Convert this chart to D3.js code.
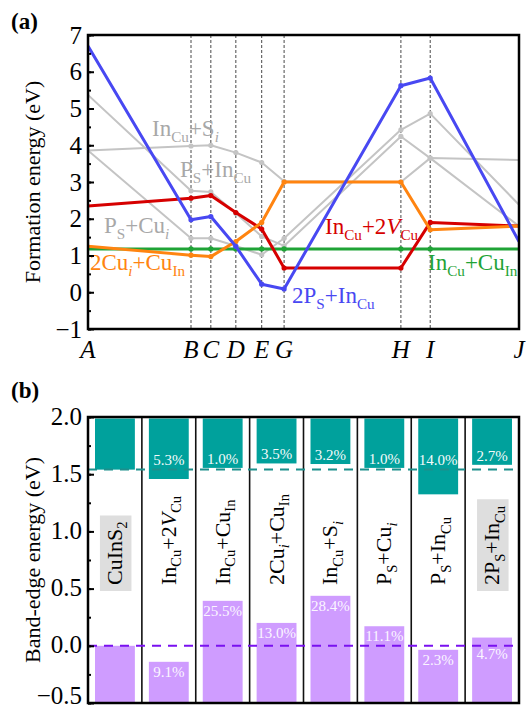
<html>
<head>
<meta charset="utf-8">
<script src="https://d3js.org/d3.v7.min.js"></script>
<style>
body { margin: 0; background: #fff; }
text { font-family: "Liberation Serif", "DejaVu Serif", serif; }
</style>
</head>
<body>
<script>
// ---- panel (a) data ----
const points = ["A", "B", "C", "D", "E", "G", "H", "I", "J"];
const pointPos = [0, 23.9, 28.5, 34.3, 40.3, 45.5, 72.6, 79.4, 100];

const grayInSi = [3.86, 3.98, 4.0, 3.8, 3.53, 3.02, 3.0, 3.65, 3.6];
const grayPsIn = [5.37, 2.76, 2.73, 2.15, 1.52, 1.26, 4.24, 3.65, 1.8];
const grayPsCu = [3.86, 1.47, 1.47, 1.26, 1.02, 1.47, 4.42, 4.86, 2.38];
const greenInCu = [1.18, 1.18, 1.18, 1.18, 1.18, 1.18, 1.18, 1.18, 1.18];
const redIn2V = [2.35, 2.56, 2.63, 2.17, 1.72, 0.66, 0.66, 1.9, 1.8];
const orange2Cu = [1.25, 1.01, 0.97, 1.38, 1.9, 3.0, 3.0, 1.7, 1.8];
const blue2Ps = [6.7, 1.97, 2.06, 1.25, 0.22, 0.09, 5.62, 5.83, 1.38];

// ---- panel (b) data ----
const complexes = [
    [["CuInS"], ["2", "s"]],
    [["In"], ["Cu", "s"], ["+2"], ["V", "i"], ["Cu", "s"]],
    [["In"], ["Cu", "s"], ["+Cu"], ["In", "s"]],
    [["2Cu"], ["i", "is"], ["+Cu"], ["In", "s"]],
    [["In"], ["Cu", "s"], ["+S"], ["i", "is"]],
    [["P"], ["S", "s"], ["+Cu"], ["i", "is"]],
    [["P"], ["S", "s"], ["+In"], ["Cu", "s"]],
    [["2P"], ["S", "s"], ["+In"], ["Cu", "s"]]
];
const boxed = [true, false, false, false, false, false, false, true];
const cbm = [1.54, 1.458, 1.555, 1.594, 1.589, 1.555, 1.324, 1.582];
const vbm = [0.0, -0.14, 0.393, 0.20, 0.437, 0.171, -0.035, 0.072];
const cbmPct = ["", "5.3%", "1.0%", "3.5%", "3.2%", "1.0%", "14.0%", "2.7%"];
const vbmPct = ["", "9.1%", "25.5%", "13.0%", "28.4%", "11.1%", "2.3%", "4.7%"];

const W = 531, H = 713;
const svg = d3.select("body").append("svg").attr("width", W).attr("height", H);

// rich text: parts [text, kind], kind: n, s (sub), i (italic), is (italic sub)
function rich(t, parts, size) {
    let shift = 0;
    parts.forEach(p => {
        let kind = p[1] || "n";
        let sub = kind == "s" || kind == "is";
        let target = sub ? size * 0.25 : 0;
        let ts = t.append("tspan").text(p[0])
            .attr("dy", target - shift)
            .attr("font-size", sub ? size * 0.66 : size);
        if (kind == "i" || kind == "is") ts.attr("font-style", "italic");
        shift = target;
    });
}

// ================= panel (a) =================
const ax = { l: 88, r: 519, t: 35, b: 329 };
const xA = d3.scaleLinear().domain([0, 100]).range([ax.l, ax.r]);
const yA = d3.scaleLinear().domain([-1, 7]).range([ax.b, ax.t]);

const gA = svg.append("g");
gA.append("clipPath").attr("id", "clipA").append("rect")
    .attr("x", ax.l).attr("y", ax.t).attr("width", ax.r - ax.l).attr("height", ax.b - ax.t);

// vertical guides
gA.append("g").selectAll("line")
    .data(pointPos.slice(1, -1))
    .join("line")
    .attr("x1", d => xA(d)).attr("x2", d => xA(d))
    .attr("y1", ax.t).attr("y2", ax.b)
    .attr("stroke", "#333").attr("stroke-width", 0.9)
    .attr("stroke-dasharray", "3,2");

const series = [
    { v: grayInSi, c: "#c4c4c4", w: 2 },
    { v: grayPsIn, c: "#c4c4c4", w: 2 },
    { v: grayPsCu, c: "#c4c4c4", w: 2 },
    { v: greenInCu, c: "#1fa336", w: 3 },
    { v: redIn2V, c: "#d60000", w: 3 },
    { v: orange2Cu, c: "#ff8410", w: 3 },
    { v: blue2Ps, c: "#4848f2", w: 3 }
];
const line = d3.line().x((d, i) => xA(pointPos[i])).y(d => yA(d));
const plotA = gA.append("g").attr("clip-path", "url(#clipA)");
series.forEach(s => {
    plotA.append("path").datum(s.v)
        .attr("d", line)
        .attr("fill", "none")
        .attr("stroke", s.c)
        .attr("stroke-width", s.w)
        .attr("stroke-linejoin", "round");
    plotA.append("g").selectAll("circle")
        .data(s.v.slice(1, -1))
        .join("circle")
        .attr("cx", (d, i) => xA(pointPos[i + 1]))
        .attr("cy", d => yA(d))
        .attr("r", 2.6)
        .attr("fill", s.c);
});

// line labels
const aLabels = [
    { p: [["In"], ["Cu", "s"], ["+S"], ["i", "is"]], x: 152, y: 136, c: "#a8a8a8" },
    { p: [["P"], ["S", "s"], ["+In"], ["Cu", "s"]], x: 180, y: 177, c: "#a8a8a8" },
    { p: [["P"], ["S", "s"], ["+Cu"], ["i", "is"]], x: 104, y: 233, c: "#a8a8a8" },
    { p: [["2Cu"], ["i", "is"], ["+Cu"], ["In", "s"]], x: 90, y: 270, c: "#ff8410" },
    { p: [["2P"], ["S", "s"], ["+In"], ["Cu", "s"]], x: 292, y: 303, c: "#4848f2" },
    { p: [["In"], ["Cu", "s"], ["+2"], ["V", "i"], ["Cu", "s"]], x: 325, y: 234, c: "#d60000" },
    { p: [["In"], ["Cu", "s"], ["+Cu"], ["In", "s"]], x: 428, y: 270, c: "#1fa336" }
];
aLabels.forEach(l => {
    let t = gA.append("text").attr("x", l.x).attr("y", l.y).attr("fill", l.c);
    rich(t, l.p, 23);
});

// axes
gA.append("g").attr("transform", `translate(${ax.l},0)`)
    .call(d3.axisLeft(yA).tickValues(d3.range(-1, 7.5, 0.5)).tickSize(-3).tickFormat(""))
    .call(g => g.select(".domain").remove())
    .selectAll("line").attr("stroke-width", 2);
gA.append("g").attr("transform", `translate(${ax.l},0)`)
    .call(d3.axisLeft(yA).ticks(8).tickSize(-6).tickPadding(6))
    .call(g => g.select(".domain").remove())
    .call(g => g.selectAll("line").attr("stroke-width", 2))
    .call(g => g.selectAll("text").attr("font-size", 25).attr("font-family", "Liberation Serif"));
gA.append("rect")
    .attr("x", ax.l).attr("y", ax.t).attr("width", ax.r - ax.l).attr("height", ax.b - ax.t)
    .attr("fill", "none").attr("stroke", "#000").attr("stroke-width", 2.5);

gA.append("g").selectAll("text")
    .data(points)
    .join("text")
    .attr("x", (d, i) => xA(pointPos[i]))
    .attr("y", 358)
    .attr("text-anchor", "middle")
    .attr("font-style", "italic")
    .attr("font-size", 25)
    .text(d => d);

gA.append("text")
    .attr("transform", `translate(40,${(ax.t + ax.b) / 2}) rotate(-90)`)
    .attr("text-anchor", "middle")
    .attr("font-size", 22)
    .text("Formation energy (eV)");

svg.append("text").attr("x", 11).attr("y", 29)
    .attr("font-family", "Liberation Sans").attr("font-weight", "bold").attr("font-size", 23)
    .text("(a)");

// ================= panel (b) =================
const bx = { l: 88, r: 519, t: 417, b: 703 };
const xB = d3.scaleBand().domain(d3.range(complexes.length)).range([bx.l, bx.r]);
const yB = d3.scaleLinear().domain([-0.5, 2.0]).range([bx.b, bx.t]);
const bw = xB.bandwidth() * 0.74;

const gB = svg.append("g");
gB.append("clipPath").attr("id", "clipB").append("rect")
    .attr("x", bx.l).attr("y", bx.t).attr("width", bx.r - bx.l).attr("height", bx.b - bx.t);
const plotB = gB.append("g").attr("clip-path", "url(#clipB)");

const cols = plotB.selectAll("g.col")
    .data(complexes.map((c, i) => i))
    .join("g").attr("class", "col");

cols.append("rect")
    .attr("x", i => xB(i) + (xB.bandwidth() - bw) / 2)
    .attr("width", bw)
    .attr("y", yB(2.0) + 1.5)
    .attr("height", i => yB(cbm[i]) - yB(2.0) - 1.5)
    .attr("fill", "#00a19c");
cols.append("rect")
    .attr("x", i => xB(i) + (xB.bandwidth() - bw) / 2)
    .attr("width", bw)
    .attr("y", i => yB(vbm[i]))
    .attr("height", i => yB(-0.5) - yB(vbm[i]))
    .attr("fill", "#cf9cff");

// separators
plotB.append("g").selectAll("line")
    .data(d3.range(1, complexes.length))
    .join("line")
    .attr("x1", i => xB(i)).attr("x2", i => xB(i))
    .attr("y1", bx.t).attr("y2", bx.b)
    .attr("stroke", "#111").attr("stroke-width", 1.6);

// reference dashes
plotB.append("line")
    .attr("x1", bx.l).attr("x2", bx.r)
    .attr("y1", yB(cbm[0])).attr("y2", yB(cbm[0]))
    .attr("stroke", "#1d8f8c").attr("stroke-width", 2).attr("stroke-dasharray", "9,7");
plotB.append("line")
    .attr("x1", bx.l).attr("x2", bx.r)
    .attr("y1", yB(0)).attr("y2", yB(0))
    .attr("stroke", "#7a10f0").attr("stroke-width", 2).attr("stroke-dasharray", "9,7");

// percentages
cols.append("text")
    .attr("x", i => xB(i) + xB.bandwidth() / 2)
    .attr("y", i => Math.min(yB(cbm[i]) - 4, yB(cbm[0]) - 5))
    .attr("text-anchor", "middle")
    .attr("font-size", 15)
    .attr("fill", "#f4fbfb")
    .text(i => cbmPct[i]);
cols.append("text")
    .attr("x", i => xB(i) + xB.bandwidth() / 2)
    .attr("y", i => {
        let b = yB(vbm[i]) + 15;
        if (Math.abs(b - 6 - yB(0)) < 8) b = yB(0) + 13;
        return b;
    })
    .attr("text-anchor", "middle")
    .attr("font-size", 15)
    .attr("fill", "#fbf6ff")
    .text(i => vbmPct[i]);

// rotated column names
complexes.forEach((c, i) => {
    let cx = xB(i) + xB.bandwidth() / 2 + 7;
    let g = gB.append("g").attr("transform", `translate(${cx},585) rotate(-90)`);
    let t = g.append("text").attr("x", 0).attr("y", 0);
    rich(t, c, 22);
    if (boxed[i]) {
        let bb = t.node().getBBox();
        g.insert("rect", "text")
            .attr("x", bb.x - 6).attr("y", bb.y - 2)
            .attr("width", bb.width + 12).attr("height", bb.height + 3)
            .attr("fill", "#dedede");
    }
});

gB.append("g").attr("transform", `translate(${bx.l},0)`)
    .call(d3.axisLeft(yB).tickValues(d3.range(-0.5, 2.01, 0.25)).tickSize(-3).tickFormat(""))
    .call(g => g.select(".domain").remove())
    .selectAll("line").attr("stroke-width", 2);
gB.append("g").attr("transform", `translate(${bx.l},0)`)
    .call(d3.axisLeft(yB).tickValues(d3.range(-0.5, 2.01, 0.5)).tickSize(-6).tickPadding(6).tickFormat(d3.format(".1f")))
    .call(g => g.select(".domain").remove())
    .call(g => g.selectAll("line").attr("stroke-width", 2))
    .call(g => g.selectAll("text").attr("font-size", 25).attr("font-family", "Liberation Serif")
        .attr("dy", d => d < 0 ? "0.02em" : "0.28em"));
gB.append("rect")
    .attr("x", bx.l).attr("y", bx.t).attr("width", bx.r - bx.l).attr("height", bx.b - bx.t)
    .attr("fill", "none").attr("stroke", "#000").attr("stroke-width", 2.5);

gB.append("text")
    .attr("transform", `translate(40,${(bx.t + bx.b) / 2}) rotate(-90)`)
    .attr("text-anchor", "middle")
    .attr("font-size", 22)
    .text("Band-edge energy (eV)");

svg.append("text").attr("x", 11).attr("y", 398)
    .attr("font-family", "Liberation Sans").attr("font-weight", "bold").attr("font-size", 23)
    .text("(b)");
</script>
</body>
</html>
